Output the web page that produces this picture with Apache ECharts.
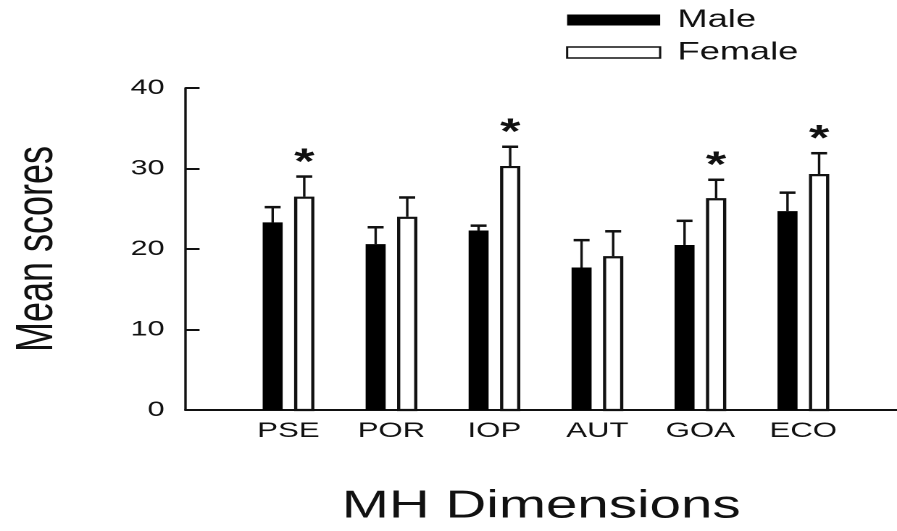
<!DOCTYPE html>
<html>
<head>
<meta charset="utf-8">
<script src="https://cdn.jsdelivr.net/npm/echarts@6/dist/echarts.min.js"></script>
<style>
  html, body { margin: 0; padding: 0; background: #fff; overflow: hidden; }
  /* the reference is a horizontally stretched figure, so draw narrow and stretch */
  #main { width: 619px; height: 531px; transform: scaleX(1.4491); transform-origin: 0 0; }
</style>
</head>
<body>
<div id="main"></div>
<script>
var categories = ['PSE', 'POR', 'IOP', 'AUT', 'GOA', 'ECO']
var maleMean = [23.3, 20.6, 22.3, 17.7, 20.5, 24.7]
var maleSD = [1.9, 2.1, 0.6, 3.4, 3.0, 2.3]
var femaleMean = [26.5, 24.0, 30.3, 19.1, 26.3, 29.3]
var femaleSD = [2.5, 2.4, 2.4, 3.1, 2.3, 2.6]
var marks = ['*', '', '*', '', '*', '*'] // significance stars on female bars
var yTicks = [0, 10, 20, 30, 40]

var chart = echarts.init(document.getElementById('main'), null, { devicePixelRatio: 2 })

var FONT = 'Liberation Sans, Arial, Helvetica, sans-serif'
var BAR_W = 13.8
var OFFSET = 10.9

function barRenderer(offset, filled) {
  return function (params, api) {
    var x = api.value(0)
    var v = api.value(1)
    var sd = api.value(2)
    var base = api.coord([x, 0])
    var top = api.coord([x, v])
    var errTop = api.coord([x, v + sd])
    var cx = base[0] + offset
    var children = []
    // error bar first so the bar outline sits over it
    children.push({
      type: 'line',
      shape: { x1: cx, y1: top[1], x2: cx, y2: errTop[1] },
      style: { stroke: '#111', lineWidth: 1.7 }
    })
    children.push({
      type: 'line',
      shape: { x1: cx - 5.5, y1: errTop[1], x2: cx + 5.5, y2: errTop[1] },
      style: { stroke: '#111', lineWidth: 2.5 }
    })
    if (filled) {
      children.push({
        type: 'rect',
        shape: { x: cx - BAR_W / 2, y: top[1], width: BAR_W, height: base[1] - top[1] },
        style: { fill: '#000' }
      })
    } else {
      children.push({
        type: 'rect',
        shape: { x: cx - BAR_W / 2 + 1, y: top[1] + 1, width: BAR_W - 2, height: base[1] - top[1] - 1 },
        style: { fill: '#fff', stroke: '#111', lineWidth: 2.2 }
      })
      var m = marks[params.dataIndex]
      if (m) {
        children.push({
          type: 'text',
          x: cx,
          y: errTop[1] - 13,
          style: {
            text: m, fill: '#111', font: 'bold 36px ' + FONT,
            align: 'center', verticalAlign: 'middle'
          }
        })
      }
    }
    return { type: 'group', children: children }
  }
}

var maleData = categories.map(function (c, i) { return [i + 1, maleMean[i], maleSD[i]] })
var femaleData = categories.map(function (c, i) { return [i + 1, femaleMean[i], femaleSD[i]] })

var option = {
  animation: false,
  backgroundColor: '#fff',
  legend: {
    orient: 'vertical',
    left: 390.6,
    top: 7.5,
    padding: 0,
    itemWidth: 64.2,
    itemHeight: 11,
    itemGap: 7.5,
    icon: 'rect',
    textStyle: { fontFamily: FONT, fontSize: 25, color: '#111', lineHeight: 24, padding: [0, 0, 0, 7] },
    data: [
      { name: 'Male', itemStyle: { color: '#000' } },
      { name: 'Female', itemStyle: { color: '#fff', borderColor: '#111', borderWidth: 1.5 } }
    ]
  },
  grid: { left: 126.3, right: 0, top: 88, bottom: 113 },
  xAxis: {
    type: 'value',
    min: 0,
    max: 6.91,
    interval: 1,
    name: 'MH Dimensions',
    nameLocation: 'middle',
    nameGap: 77,
    nameTextStyle: { fontFamily: FONT, fontSize: 39, color: '#111' },
    axisLine: { lineStyle: { color: '#111', width: 2 } },
    axisTick: { show: false },
    splitLine: { show: false },
    axisLabel: {
      margin: 10,
      showMaxLabel: false,
      fontFamily: FONT, fontSize: 21.5, color: '#111',
      formatter: function (v) { return categories[Math.round(v) - 1] || '' }
    }
  },
  yAxis: {
    type: 'value',
    min: yTicks[0],
    max: yTicks[yTicks.length - 1],
    interval: 10,
    name: 'Mean scores',
    nameLocation: 'middle',
    nameGap: 84,
    nameTextStyle: { fontFamily: FONT, fontSize: 36, color: '#111' },
    axisLine: { show: true, lineStyle: { color: '#111', width: 1.7 } },
    axisTick: { show: true, inside: true, length: 9.7, lineStyle: { color: '#111', width: 2 } },
    splitLine: { show: false },
    axisLabel: { margin: 14.5, fontFamily: FONT, fontSize: 21, color: '#111' }
  },
  series: [
    {
      name: 'Male',
      type: 'custom',
      itemStyle: { color: '#000' },
      encode: { x: 0, y: 1 },
      renderItem: barRenderer(-OFFSET, true),
      data: maleData
    },
    {
      name: 'Female',
      type: 'custom',
      itemStyle: { color: '#fff', borderColor: '#111' },
      encode: { x: 0, y: 1 },
      renderItem: barRenderer(OFFSET, false),
      data: femaleData
    }
  ]
}

chart.setOption(option)
</script>
</body>
</html>
